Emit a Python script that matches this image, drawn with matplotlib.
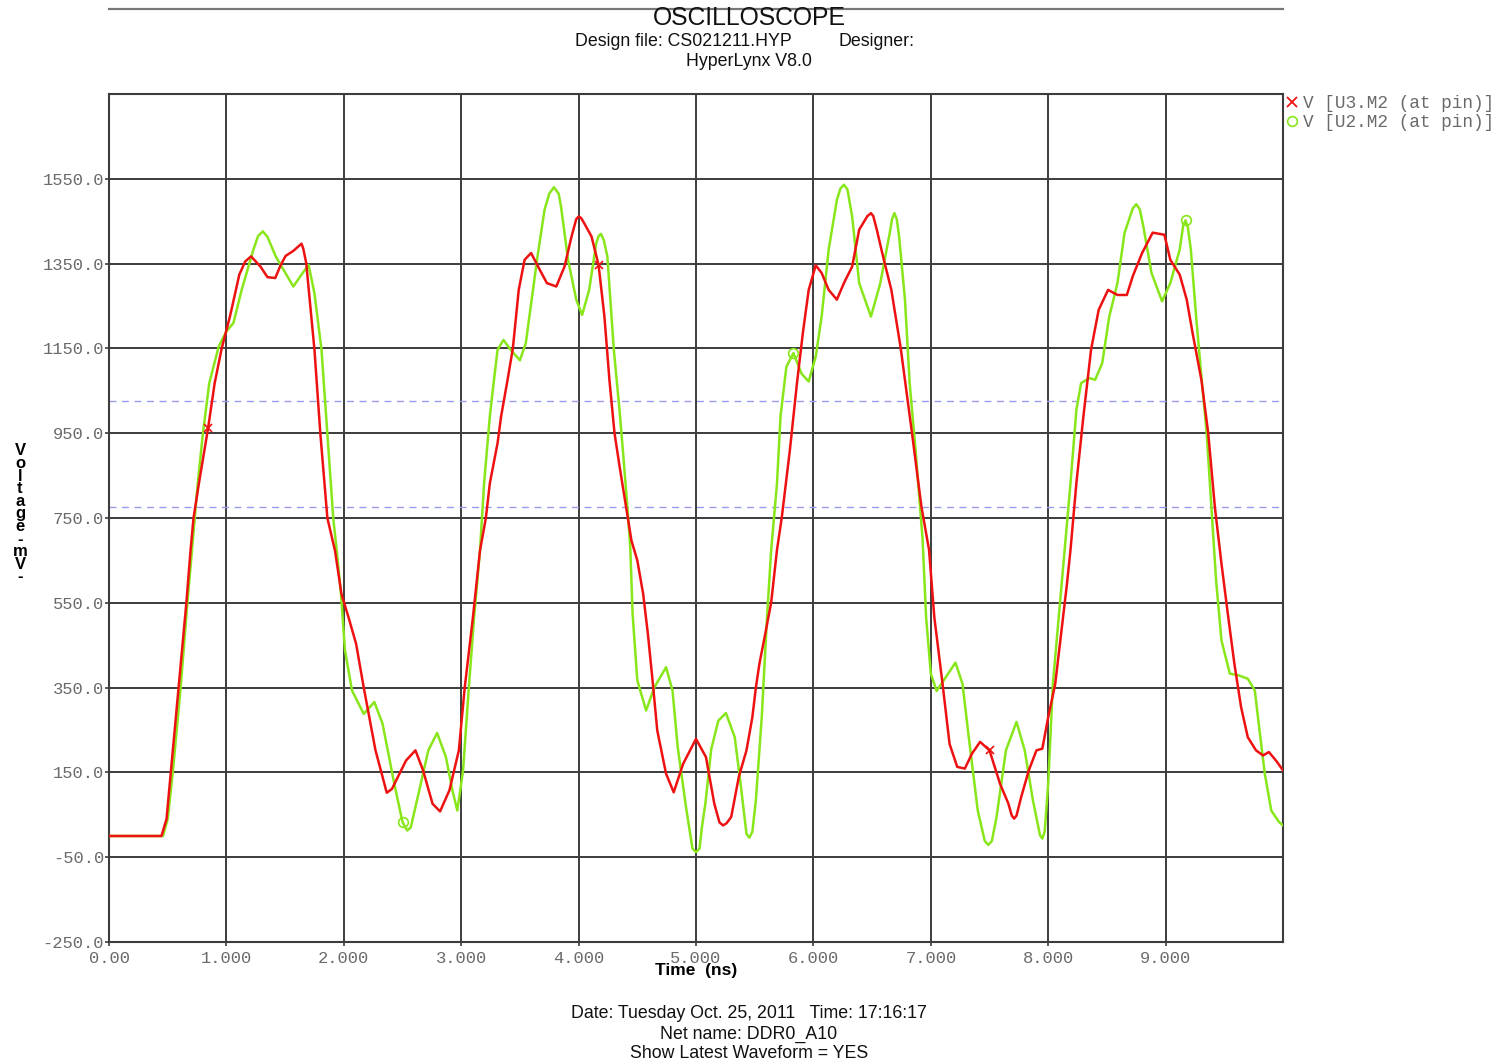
import matplotlib
matplotlib.use("Agg")
import matplotlib.pyplot as plt
from matplotlib.lines import Line2D
import numpy as np

# ---- data (time in ns, voltage in mV) ----
t_red = [0.00, 0.447, 0.49, 0.528, 0.593, 0.659, 0.695, 0.72, 0.766, 0.844, 0.90, 0.96, 1.03, 1.11, 1.16,
         1.21, 1.29, 1.35, 1.416, 1.46, 1.504, 1.57, 1.62, 1.64, 1.655, 1.68, 1.75, 1.80, 1.86, 1.925, 1.98, 2.04,
         2.105, 2.17, 2.27, 2.366, 2.41, 2.53, 2.61, 2.675, 2.756, 2.82, 2.90, 2.98, 3.03, 3.10, 3.16,
         3.21, 3.244, 3.31, 3.34, 3.39, 3.44, 3.49, 3.54, 3.595, 3.67, 3.73, 3.81, 3.88, 3.94, 3.98, 4.00,
         4.02, 4.04, 4.11, 4.17, 4.22, 4.263, 4.306, 4.35, 4.405, 4.45, 4.50, 4.55, 4.59, 4.63, 4.67, 4.745,
         4.81, 4.89, 5.00, 5.085, 5.156, 5.20, 5.23, 5.26, 5.30, 5.365, 5.43, 5.48, 5.51, 5.54, 5.59, 5.64, 5.69,
         5.73, 5.80, 5.86, 5.91, 5.96, 6.02, 6.07, 6.13, 6.20, 6.26, 6.33, 6.39, 6.46, 6.49, 6.51, 6.54, 6.60,
         6.664, 6.744, 6.84, 6.92, 6.985, 7.03, 7.10, 7.16, 7.225, 7.29, 7.35, 7.42, 7.50, 7.59, 7.66,
         7.69, 7.71, 7.73, 7.77, 7.835, 7.90, 7.95, 8.00, 8.06, 8.11, 8.16, 8.19, 8.24, 8.30, 8.365, 8.43, 8.51,
         8.59, 8.67, 8.72, 8.80, 8.89, 8.99, 9.04, 9.12, 9.18, 9.23, 9.306, 9.363, 9.42, 9.476, 9.53,
         9.586, 9.643, 9.70, 9.77, 9.83, 9.88, 9.94, 10.0]
v_red = [0, 0, 40, 155, 350, 550, 675, 750, 832, 962, 1068, 1150, 1225, 1324, 1355,
         1367, 1343, 1318, 1316, 1345, 1368, 1380, 1392, 1397, 1385, 1351, 1147, 950, 750, 673, 571, 516,
         453, 350, 202, 102, 111, 178, 202, 155, 76, 58, 108, 202, 350, 516, 673,
         750, 832, 927, 990, 1068, 1150, 1288, 1359, 1375, 1335, 1304, 1296, 1343, 1414, 1455, 1461,
         1458, 1449, 1414, 1347, 1225, 1074, 950, 870, 775, 697, 650, 571, 477, 367, 249, 147,
         103, 170, 229, 186, 76, 32, 25, 30, 45, 140, 202, 280, 350, 406, 477, 550, 675,
         750, 911, 1068, 1186, 1288, 1346, 1328, 1288, 1265, 1304, 1343, 1430, 1462, 1469, 1462, 1430, 1359,
         1288, 1150, 950, 777, 675, 516, 359, 217, 163, 159, 194, 222, 202, 123, 77,
         48, 41, 48, 92, 155, 202, 206, 280, 359, 477, 595, 675, 832, 990, 1147, 1241, 1288,
         1276, 1276, 1320, 1375, 1423, 1418, 1359, 1324, 1265, 1186, 1074, 950, 775, 642, 524,
         406, 304, 233, 202, 190, 198, 178, 155]

t_grn = [0.00, 0.46, 0.50, 0.545, 0.61, 0.668, 0.707, 0.756, 0.80, 0.854, 0.935, 1.00, 1.06, 1.13, 1.23,
         1.27, 1.31, 1.35, 1.42, 1.57, 1.65, 1.70, 1.75, 1.81, 1.86, 1.91, 1.94, 1.976, 2.01, 2.07, 2.17, 2.26,
         2.33, 2.43, 2.50, 2.54, 2.57, 2.63, 2.72, 2.795, 2.87, 2.925, 2.967, 3.016, 3.065, 3.11, 3.16, 3.195,
         3.244, 3.276, 3.31, 3.36, 3.42, 3.50, 3.55, 3.60, 3.65, 3.71, 3.75, 3.79, 3.83, 3.85, 3.91, 3.98, 4.03,
         4.09, 4.15, 4.17, 4.19, 4.215, 4.245, 4.30, 4.35, 4.38, 4.42, 4.44, 4.46, 4.50, 4.575, 4.646, 4.745, 4.80,
         4.844, 4.915, 4.97, 5.00, 5.03, 5.05, 5.08, 5.13, 5.19, 5.255, 5.33, 5.38, 5.43, 5.455, 5.48, 5.51, 5.56,
         5.605, 5.64, 5.69, 5.72, 5.77, 5.83, 5.90, 5.96, 6.02, 6.07, 6.13, 6.20, 6.23, 6.26, 6.29, 6.33, 6.39,
         6.49, 6.57, 6.65, 6.67, 6.69, 6.71, 6.73, 6.78, 6.82, 6.87, 6.93, 6.96, 7.00, 7.05, 7.11, 7.21, 7.27,
         7.32, 7.40, 7.46, 7.49, 7.52, 7.56, 7.64, 7.73, 7.80, 7.87, 7.93, 7.95, 7.97, 8.00, 8.04, 8.09, 8.14,
         8.19, 8.24, 8.28, 8.35, 8.40, 8.46, 8.52, 8.59, 8.65, 8.72, 8.75, 8.78, 8.81, 8.88, 8.97, 9.04, 9.12,
         9.15, 9.17, 9.19, 9.215, 9.26, 9.31, 9.35, 9.39, 9.43, 9.476, 9.547, 9.62, 9.70, 9.76, 9.80, 9.845,
         9.90, 9.966, 10.0]
v_grn = [0, 0, 40, 155, 350, 550, 675, 832, 950, 1068, 1155, 1190, 1210, 1288, 1383,
         1415, 1426, 1413, 1367, 1296, 1328, 1347, 1280, 1147, 950, 750, 673, 571, 438, 343, 288, 316,
         265, 123, 33, 13, 20, 92, 202, 243, 186, 108, 60, 155, 350, 516, 673, 832,
         990, 1068, 1147, 1170, 1147, 1122, 1162, 1265, 1367, 1477, 1515, 1530, 1515, 1485, 1359, 1265, 1229,
         1288, 1398, 1415, 1420, 1405, 1367, 1147, 1000, 900, 760, 681, 524, 367, 296, 351, 398, 343,
         210, 68, -30, -38, -30, 20, 77, 205, 272, 290, 233, 123, 5, -4, 10, 84, 280,
         516, 673, 832, 990, 1107, 1139, 1090, 1072, 1131, 1225, 1383, 1500, 1527, 1536, 1525, 1461, 1304,
         1225, 1304, 1422, 1455, 1469, 1455, 1414, 1265, 1068, 911, 700, 516, 383, 342, 367, 409, 359,
         241, 60, -12, -21, -12, 45, 202, 269, 202, 84, 2, -6, 10, 123, 359, 516, 673,
         832, 1005, 1068, 1080, 1076, 1115, 1225, 1304, 1422, 1480, 1490, 1478, 1438, 1328, 1261, 1304, 1383,
         1440, 1452, 1435, 1383, 1225, 1068, 950, 775, 603, 461, 383, 379, 371, 343, 249, 147,
         60, 33, 25]

t_red_mk = [0.844, 4.17, 7.50]
v_red_mk = [962, 1347, 202]
t_grn_mk = [2.50, 5.83, 9.17]
v_grn_mk = [33, 1139, 1452]

thresholds = [1025, 775]
yticks = [-250, -50, 150, 350, 550, 750, 950, 1150, 1350, 1550]
xticks = [0, 1, 2, 3, 4, 5, 6, 7, 8, 9]
xticklabels = ["0.00", "1.000", "2.000", "3.000", "4.000", "5.000", "6.000", "7.000", "8.000", "9.000"]
labels = ["V [U3.M2 (at pin)]", "V [U2.M2 (at pin)]"]

RED = "#ee1111"
GREEN = "#88e61a"
SANS = ["Liberation Sans", "DejaVu Sans"]
MONO = ["Liberation Mono", "DejaVu Sans Mono"]

fig = plt.figure(figsize=(14.96, 10.64), dpi=100)
ax = fig.add_axes([109 / 1496, 1 - 942 / 1064, (1283 - 109) / 1496, (942 - 94) / 1064])

ax.set_xlim(0, 10)
ax.set_ylim(-250, 1750)
ax.set_xticks(xticks)
ax.set_xticklabels(xticklabels)
ax.set_yticks(yticks)
ax.set_yticklabels([f"{v:.1f}" for v in yticks])
ax.grid(True, color="#3c3c3c", lw=1.4)
ax.set_axisbelow(True)
for s in ax.spines.values():
    s.set_color("#3c3c3c")
    s.set_linewidth(1.5)
ax.tick_params(direction="out", length=3, width=1.2, color="#3c3c3c", labelcolor="#6a6a6a",
               labelsize=12.3)
ax.tick_params(axis="y", pad=0.5)
ax.tick_params(axis="x", pad=3.5)
for lab in ax.get_xticklabels() + ax.get_yticklabels():
    lab.set_family(MONO)

for th in thresholds:
    ax.axhline(th, color="#9a9aee", lw=1.0, ls=(0, (5, 4)), zorder=2)

ax.plot(t_red, v_red, color=RED, lw=1.8, zorder=4, solid_joinstyle="round")
ax.plot(t_grn, v_grn, color=GREEN, lw=1.8, zorder=3, solid_joinstyle="round")
ax.plot(t_red_mk, v_red_mk, ls="none", marker="x", ms=6, mew=1.2, color=RED, zorder=5)
ax.plot(t_grn_mk, v_grn_mk, ls="none", marker="o", ms=7, mew=1.2, mfc="none", mec=GREEN, zorder=5)

handles = [Line2D([], [], ls="none", marker="x", ms=7, mew=1.3, color=RED),
           Line2D([], [], ls="none", marker="o", ms=7, mew=1.2, mfc="none", mec=GREEN)]
leg = ax.legend(handles, labels, loc="upper left", bbox_to_anchor=(1.0, 1.003), frameon=False,
                handlelength=0.6, handletextpad=0.3, borderpad=0, borderaxespad=0.2,
                labelspacing=0.12, prop={"family": MONO, "size": 12.8}, labelcolor="#6a6a6a")

ax.set_xlabel("Time  (ns)", family=SANS, fontsize=12.5, fontweight="bold", labelpad=-2)

# y label as stacked letters
fig.text(20 / 1496, 1 - 514 / 1064, "\n".join("Voltage-mV-"), ha="center", va="center",
         family=SANS, fontsize=12, fontweight="bold", linespacing=0.8)

# header
fig.add_artist(Line2D([109 / 1496, 1283 / 1496], [1 - 9 / 1064, 1 - 9 / 1064],
                      transform=fig.transFigure, color="#777777", lw=1.6))
fig.text(749 / 1496, 1 - 18 / 1064, "OSCILLOSCOPE", ha="center", va="center",
         family=SANS, fontsize=17.8, color="#111111")
fig.text(575 / 1496, 1 - 42 / 1064, "Design file: CS021211.HYP", ha="left", va="center",
         family=SANS, fontsize=12.8, color="#111111")
fig.text(838 / 1496, 1 - 42 / 1064, "Designer:", ha="left", va="center",
         family=SANS, fontsize=12.8, color="#111111")
fig.text(749 / 1496, 1 - 62 / 1064, "HyperLynx V8.0", ha="center", va="center",
         family=SANS, fontsize=12.8, color="#111111")

# footer
fig.text(749 / 1496, 1 - 1013 / 1064, "Date: Tuesday Oct. 25, 2011   Time: 17:16:17", ha="center",
         va="center", family=SANS, fontsize=12.8, color="#111111")
fig.text(749 / 1496, 1 - 1034 / 1064, "Net name: DDR0_A10", ha="center", va="center",
         family=SANS, fontsize=12.8, color="#111111")
fig.text(749 / 1496, 1 - 1054 / 1064, "Show Latest Waveform = YES", ha="center", va="center",
         family=SANS, fontsize=12.8, color="#111111")

fig.savefig("out.png", dpi=100, facecolor="white")
